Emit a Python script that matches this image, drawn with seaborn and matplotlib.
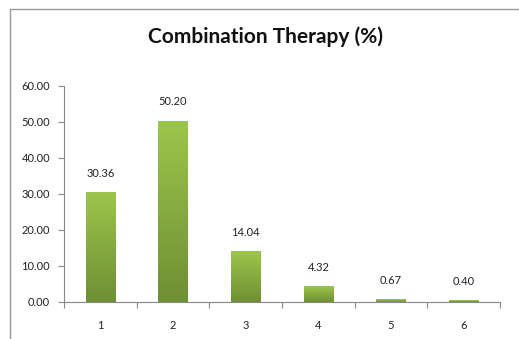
import numpy as np
import pandas as pd
import matplotlib
matplotlib.use("Agg")
import matplotlib.pyplot as plt
import seaborn as sns
from matplotlib.colors import LinearSegmentedColormap
from matplotlib.lines import Line2D

# Share of patients by number of drugs combined
categories = ["1", "2", "3", "4", "5", "6"]
percent = [30.36, 50.20, 14.04, 4.32, 0.67, 0.40]
y_ticks = [0, 10, 20, 30, 40, 50, 60]

sns.set_theme(style="white")
plt.rcParams["font.family"] = ["Lato", "DejaVu Sans"]

df = pd.DataFrame({"combo": categories, "pct": percent})

fig = plt.figure(figsize=(5.19, 3.39), dpi=100)
ax = fig.add_axes([64 / 519, 1 - 302 / 339, 436 / 519, 216 / 339])

sns.barplot(data=df, x="combo", y="pct", ax=ax, width=0.4,
            color="#8db446", saturation=1, edgecolor="none")

# Vertical green gradient on each bar
cmap = LinearSegmentedColormap.from_list("grn", ["#6f8f34", "#9cc64b"])
grad = np.linspace(0, 1, 256).reshape(-1, 1)
for p in ax.patches:
    x0, y0 = p.get_x(), p.get_y()
    w, h = p.get_width(), p.get_height()
    ax.imshow(grad, extent=[x0, x0 + w, y0, y0 + h], origin="lower",
              cmap=cmap, aspect="auto", zorder=2)
    p.set_visible(False)

for i, v in enumerate(percent):
    ax.annotate(f"{v:.2f}", (i, v), xytext=(0, 10), textcoords="offset points",
                ha="center", va="bottom", fontsize=8, color="#222222")

ax.set_xlim(-0.5, 5.5)
ax.set_ylim(0, 60)
ax.set_yticks(y_ticks)
ax.set_yticklabels([f"{t:.2f}" for t in y_ticks], fontsize=8, color="#222222")
ax.set_xticks(range(len(categories)))
ax.set_xticklabels(categories, fontsize=8, color="#222222")
ax.set_xlabel("")
ax.set_ylabel("")

# category-boundary ticks on x axis
ax.set_xticks(np.arange(-0.5, 6.0, 1.0), minor=True)
ax.tick_params(axis="x", which="major", length=0, pad=13)
ax.tick_params(axis="x", which="minor", length=4, width=0.8, color="#888888",
               direction="out", bottom=True)
ax.tick_params(axis="y", which="major", length=4, width=0.8, color="#888888",
               direction="out", left=True, pad=6)

for side in ["top", "right"]:
    ax.spines[side].set_visible(False)
for side in ["left", "bottom"]:
    ax.spines[side].set_color("#888888")
    ax.spines[side].set_linewidth(0.8)

fig.suptitle("Combination Therapy (%)", x=265 / 519, y=1 - 37 / 339,
             va="center", fontsize=15, fontweight="bold", color="#111111")

# chart frame
fig.add_artist(Line2D([10 / 519, 10 / 519], [0, 1 - 9 / 339],
                      transform=fig.transFigure, color="#999999", lw=1))
fig.add_artist(Line2D([10 / 519, 1], [1 - 9 / 339, 1 - 9 / 339],
                      transform=fig.transFigure, color="#999999", lw=1))

fig.savefig("out.png", dpi=100, facecolor="white")
